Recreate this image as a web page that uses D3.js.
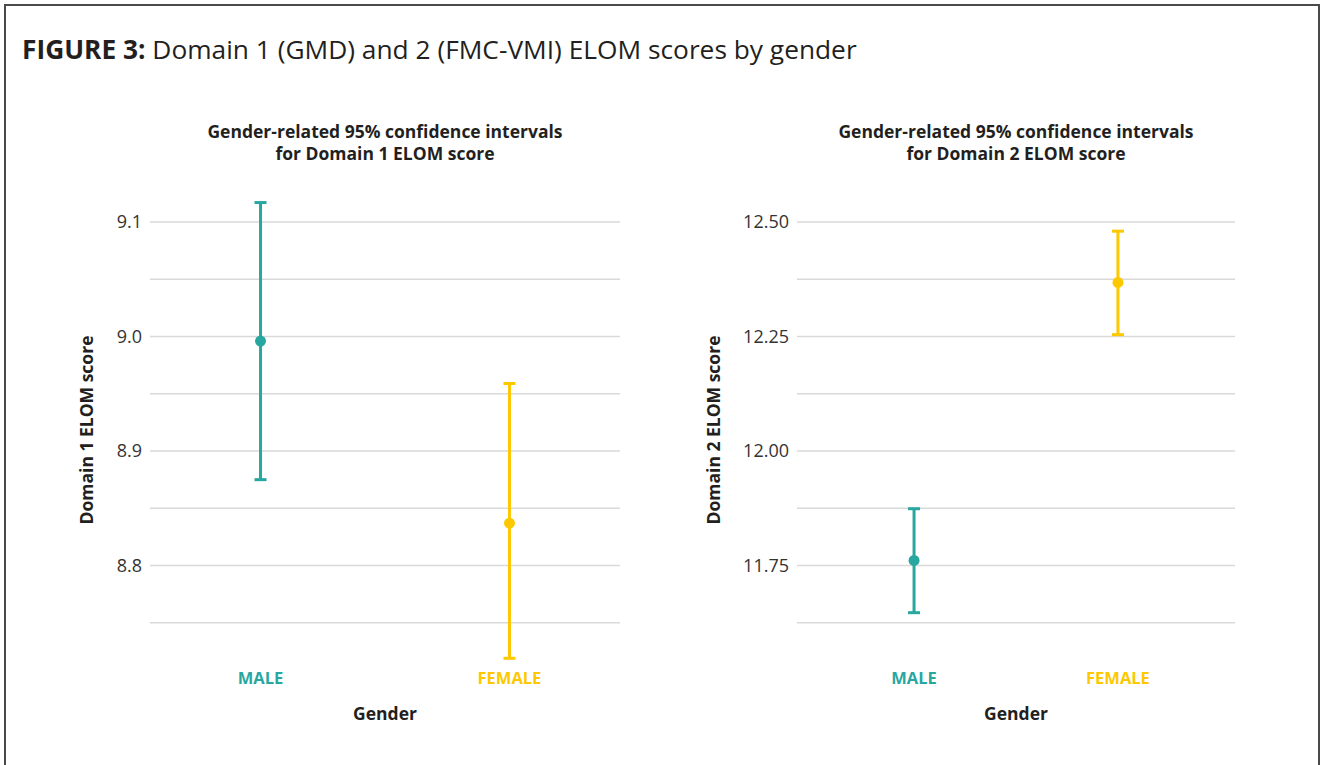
<!DOCTYPE html>
<html>
<head>
<meta charset="utf-8">
<script src="https://cdn.jsdelivr.net/npm/d3@7/dist/d3.min.js"></script>
<style>
  html, body { margin: 0; padding: 0; background: #fff; }
  svg { display: block; }
  text { font-family: "Open Sans", "Noto Sans", sans-serif; }
</style>
</head>
<body>
<svg id="chart" width="1322" height="765"></svg>
<script>
// ---- Data ----
const categories = ["MALE", "FEMALE"];
const categoryColors = ["#28a7a1", "#fdc800"];

const domain1Means = [8.996, 8.837];
const domain1Lower = [8.875, 8.719];
const domain1Upper = [9.117, 8.959];
const domain1TickLabels = ["8.8", "8.9", "9.0", "9.1"];
const domain1TickValues = [8.8, 8.9, 9.0, 9.1];
const domain1GridValues = [8.75, 8.8, 8.85, 8.9, 8.95, 9.0, 9.05, 9.1];

const domain2Means = [11.761, 12.368];
const domain2Lower = [11.647, 12.254];
const domain2Upper = [11.874, 12.480];
const domain2TickLabels = ["11.75", "12.00", "12.25", "12.50"];
const domain2TickValues = [11.75, 12.0, 12.25, 12.5];
const domain2GridValues = [11.625, 11.75, 11.875, 12.0, 12.125, 12.25, 12.375, 12.5];

const figureLabel = "FIGURE 3:";
const figureTitle = " Domain 1 (GMD) and 2 (FMC-VMI) ELOM scores by gender";

// ---- Drawing ----
const svg = d3.select("#chart");

svg.append("rect")
  .attr("x", 5).attr("y", 5)
  .attr("width", 1314).attr("height", 800)
  .attr("fill", "none").attr("stroke", "#4a4a4a").attr("stroke-width", 2);

const t = svg.append("text").attr("x", 22).attr("y", 59)
  .attr("font-size", 26.3).attr("fill", "#231f20");
t.append("tspan").attr("font-weight", 700).text(figureLabel);
t.append("tspan").attr("font-weight", 400).text(figureTitle);

const panels = [
  {
    title: ["Gender-related 95% confidence intervals", "for Domain 1 ELOM score"],
    yTitle: "Domain 1 ELOM score",
    means: domain1Means, lower: domain1Lower, upper: domain1Upper,
    tickValues: domain1TickValues, tickLabels: domain1TickLabels, grid: domain1GridValues,
    yDomain: [8.7175, 9.1367],
    left: 150, right: 620, padding: 0.444, yTitleX: 87
  },
  {
    title: ["Gender-related 95% confidence intervals", "for Domain 2 ELOM score"],
    yTitle: "Domain 2 ELOM score",
    means: domain2Means, lower: domain2Lower, upper: domain2Upper,
    tickValues: domain2TickValues, tickLabels: domain2TickLabels, grid: domain2GridValues,
    yDomain: [11.5437, 12.5917],
    left: 797, right: 1235, padding: 0.574, yTitleX: 714
  }
];

const plotTop = 180, plotBottom = 660;

panels.forEach(p => {
  const g = svg.append("g");
  const y = d3.scaleLinear().domain(p.yDomain).range([plotBottom, plotTop]);
  const x = d3.scalePoint().domain(categories).range([p.left, p.right]).padding(p.padding);
  const cx = (p.left + p.right) / 2;

  // title
  p.title.forEach((line, i) => {
    g.append("text").attr("x", cx).attr("y", 138 + i * 22)
      .attr("text-anchor", "middle").attr("font-size", 17.5).attr("font-weight", 700)
      .attr("fill", "#231f20").text(line);
  });

  // gridlines
  g.selectAll("line.grid").data(p.grid).enter().append("line")
    .attr("x1", p.left).attr("x2", p.right)
    .attr("y1", d => y(d)).attr("y2", d => y(d))
    .attr("stroke", "#d9d9d9").attr("stroke-width", 1.5);

  // y axis labels via d3 axis
  const axis = d3.axisLeft(y).tickValues(p.tickValues)
    .tickFormat((d, i) => p.tickLabels[i]).tickSize(0).tickPadding(8);
  const ag = g.append("g").attr("transform", `translate(${p.left},0)`).call(axis);
  ag.select(".domain").remove();
  ag.selectAll("text").attr("font-size", 18).attr("fill", "#333")
    .attr("font-family", "\"Open Sans\", sans-serif");

  // y title
  g.append("text")
    .attr("transform", `translate(${p.yTitleX},${(plotTop + plotBottom) / 2 + 10})` + " rotate(-90)")
    .attr("text-anchor", "middle").attr("dy", "0.35em")
    .attr("font-size", 17.5).attr("font-weight", 700).attr("fill", "#231f20")
    .text(p.yTitle);

  // error bars
  categories.forEach((c, i) => {
    const col = categoryColors[i];
    const xx = x(c);
    g.append("line").attr("x1", xx).attr("x2", xx)
      .attr("y1", y(p.lower[i])).attr("y2", y(p.upper[i]))
      .attr("stroke", col).attr("stroke-width", 3);
    [p.lower[i], p.upper[i]].forEach(v => {
      g.append("line").attr("x1", xx - 6).attr("x2", xx + 6)
        .attr("y1", y(v)).attr("y2", y(v))
        .attr("stroke", col).attr("stroke-width", 3);
    });
    g.append("circle").attr("cx", xx).attr("cy", y(p.means[i])).attr("r", 5.5)
      .attr("fill", col);
    g.append("text").attr("x", xx).attr("y", 684)
      .attr("text-anchor", "middle").attr("font-size", 16.5).attr("font-weight", 700)
      .attr("fill", col).text(c);
  });

  g.append("text").attr("x", cx).attr("y", 720)
    .attr("text-anchor", "middle").attr("font-size", 17.5).attr("font-weight", 700)
    .attr("fill", "#231f20").text("Gender");
});
</script>
</body>
</html>
